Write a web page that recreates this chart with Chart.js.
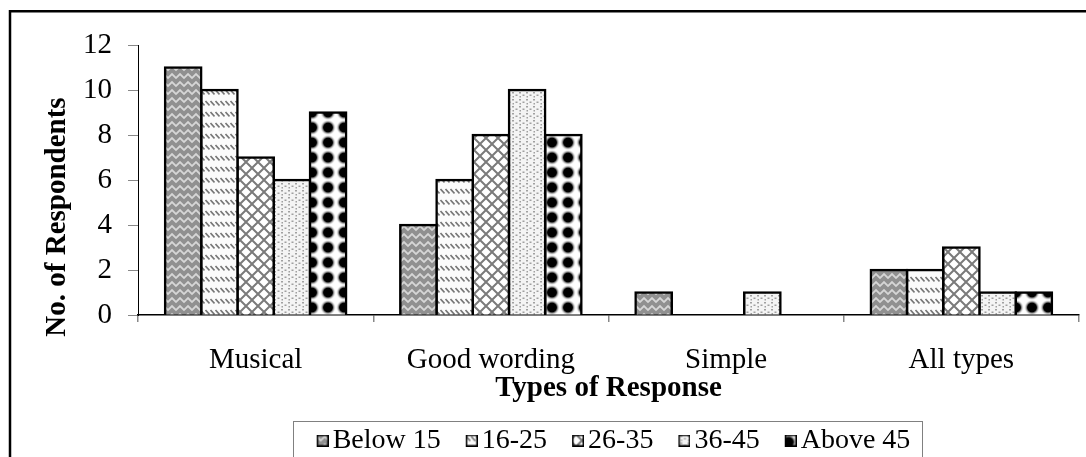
<!DOCTYPE html>
<html>
<head>
<meta charset="utf-8">
<title>Types of Response</title>
<script src="https://cdn.jsdelivr.net/npm/chart.js@4.4.1/dist/chart.umd.min.js"></script>
<style>
  html, body { margin: 0; padding: 0; background: #fff; }
  #wrap { width: 1086px; height: 457px; overflow: hidden; }
</style>
</head>
<body>
<div id="wrap"><canvas id="chart" width="1086" height="457"></canvas></div>
<script>
// Data
var categories = ['Musical', 'Good wording', 'Simple', 'All types'];
var seriesLabels = ['Below 15', '16-25', '26-35', '36-45', 'Above 45'];
var below15 = [11, 4, 1, 2];
var age16to25 = [10, 6, 0, 2];
var age26to35 = [7, 8, 0, 3];
var age36to45 = [6, 10, 1, 1];
var above45 = [9, 8, 0, 1];
var yMin = 0, yMax = 12, yStep = 2;

var SERIF = "'Times New Roman', 'Liberation Serif', serif";

// Small tiles used as fill patterns (black & white print look)
function tile(w, h, draw) {
    var c = document.createElement('canvas');
    c.width = w; c.height = h;
    var g = c.getContext('2d');
    draw(g, w, h);
    return g.createPattern(c, 'repeat');
}

var patterns = [
    // Below 15: light herringbone on mid grey
    tile(8, 8, function(g, w, h) {
        g.fillStyle = '#909090'; g.fillRect(0, 0, w, h);
        g.strokeStyle = '#d6d6d6'; g.lineWidth = 1.8;
        g.beginPath(); g.moveTo(-1, 7); g.lineTo(4, 2); g.lineTo(9, 7); g.stroke();
    }),
    // 16-25: short slanted dashes in rows
    tile(5, 11, function(g, w, h) {
        g.fillStyle = '#fbfbfb'; g.fillRect(0, 0, w, h);
        g.strokeStyle = '#767676'; g.lineWidth = 1.6;
        g.beginPath(); g.moveTo(0.5, 2); g.lineTo(4.5, 6.5); g.stroke();
    }),
    // 26-35: diagonal cross hatch
    tile(12, 12, function(g, w, h) {
        g.fillStyle = '#fff'; g.fillRect(0, 0, w, h);
        g.strokeStyle = '#7a7a7a'; g.lineWidth = 2;
        g.beginPath();
        g.moveTo(0, 0); g.lineTo(w, h);
        g.moveTo(w, 0); g.lineTo(0, h);
        g.stroke();
    }),
    // 36-45: fine grey speckle
    tile(7, 7, function(g, w, h) {
        g.fillStyle = '#f4f4f4'; g.fillRect(0, 0, w, h);
        g.fillStyle = '#a0a0a0';
        g.fillRect(1, 1, 2, 1.5);
        g.fillRect(4.5, 3.5, 2, 1.5);
        g.fillRect(1.5, 5, 1.5, 1.5);
    }),
    // Above 45: soft black dots
    tile(16, 15, function(g, w, h) {
        g.fillStyle = '#fff'; g.fillRect(0, 0, w, h);
        var grd = g.createRadialGradient(8, 7.5, 0, 8, 7.5, 8);
        grd.addColorStop(0, '#000');
        grd.addColorStop(0.55, '#000');
        grd.addColorStop(1, 'rgba(255,255,255,0)');
        g.fillStyle = grd; g.fillRect(0, 0, w, h);
    })
];

// Legend swatches: transparent lead-in then a 12px bordered square
function legendIcon(pat) {
    var c = document.createElement('canvas');
    c.width = 32; c.height = 12;
    var g = c.getContext('2d');
    g.fillStyle = pat; g.fillRect(20, 0, 12, 12);
    g.strokeStyle = '#000'; g.lineWidth = 1.5;
    g.strokeRect(20.75, 0.75, 10.5, 10.5);
    return c;
}
var legendIcons = patterns.map(legendIcon);

var seriesValues = [below15, age16to25, age26to35, age36to45, above45];
var datasets = seriesValues.map(function(vals, i) {
    return {
        label: seriesLabels[i],
        data: vals,
        backgroundColor: patterns[i],
        borderColor: '#000',
        borderWidth: 2.5,
        inflateAmount: 1.25
    };
});

var framePlugin = {
    id: 'frame',
    afterDraw: function(chart) {
        var ctx = chart.ctx;
        ctx.save();
        // outer frame of the figure
        ctx.strokeStyle = '#000';
        ctx.lineWidth = 2.5;
        ctx.strokeRect(10, 11.25, 1090, 500);

        // box around the legend
        var lg = chart.legend, boxes = lg.legendHitBoxes;
        var first = boxes[0], last = boxes[boxes.length - 1];
        var bx = Math.round(first.left - 14) + 0.5;
        var bw = Math.round(last.left + last.width + 12) - Math.round(first.left - 14);
        ctx.strokeStyle = '#808080';
        ctx.lineWidth = 1;
        ctx.strokeRect(bx, Math.round(lg.top + 9) + 0.5, bw, 100);

        // y axis title
        ctx.font = 'bold 29px ' + SERIF;
        ctx.fillStyle = '#000';
        ctx.textAlign = 'center';
        ctx.textBaseline = 'alphabetic';
        ctx.translate(65, 217);
        ctx.rotate(-Math.PI / 2);
        ctx.fillText('No. of Respondents', 0, 0);
        ctx.restore();
    }
};

new Chart(document.getElementById('chart'), {
    type: 'bar',
    data: { labels: categories, datasets: datasets },
    plugins: [framePlugin],
    options: {
        responsive: false,
        animation: false,
        devicePixelRatio: 1,
        layout: { padding: { top: 45, left: 0, right: 7, bottom: -7.5 } },
        datasets: { bar: { categoryPercentage: 0.77, barPercentage: 1 } },
        plugins: {
            tooltip: { enabled: false },
            legend: {
                position: 'bottom',
                fullSize: false,
                labels: {
                    usePointStyle: true,
                    pointStyleWidth: 12,
                    padding: 15,
                    color: '#000',
                    font: { family: SERIF, size: 28 },
                    generateLabels: function(chart) {
                        var items = Chart.defaults.plugins.legend.labels.generateLabels(chart);
                        items.forEach(function(it, i) { it.pointStyle = legendIcons[i]; });
                        return items;
                    }
                }
            }
        },
        scales: {
            x: {
                grid: { drawOnChartArea: false, tickLength: 7, color: '#888', lineWidth: 1.5 },
                border: { color: '#000', width: 1.5 },
                ticks: { color: '#000', padding: 21, maxRotation: 0, font: { family: SERIF, size: 29 } },
                title: {
                    display: true,
                    text: 'Types of Response',
                    color: '#000',
                    padding: { top: 0, bottom: 6 },
                    font: { family: SERIF, size: 29, weight: 'bold' }
                },
                afterFit: function(scale) { scale.height = 96.5; }
            },
            y: {
                min: yMin,
                max: yMax,
                grid: { drawOnChartArea: false, tickLength: 10, color: '#888' },
                border: { color: '#000', width: 1 },
                ticks: { stepSize: yStep, color: '#000', padding: 16, font: { family: SERIF, size: 29 } },
                afterFit: function(scale) { scale.width = 138; }
            }
        }
    }
});
</script>
</body>
</html>
